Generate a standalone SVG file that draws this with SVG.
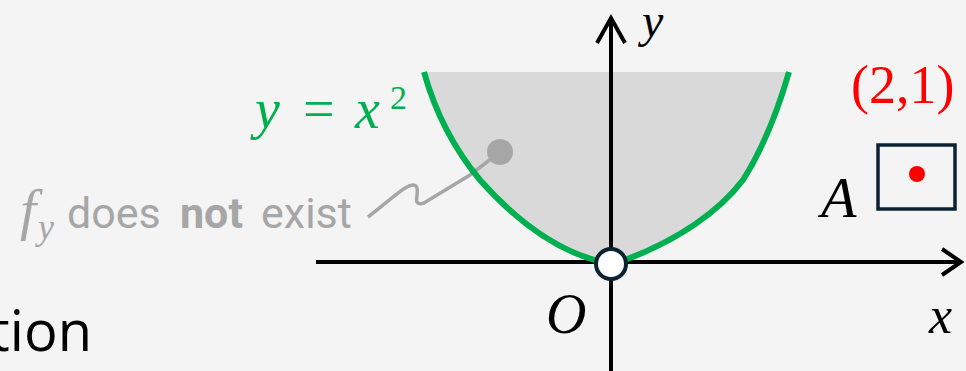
<svg xmlns="http://www.w3.org/2000/svg" width="966" height="371" viewBox="0 0 966 371">
<style>
.math{font-family:"Liberation Serif","DejaVu Serif",serif;font-style:italic}
.up{font-family:"Liberation Serif","DejaVu Serif",serif}
.sans{font-family:Roboto,"Liberation Sans",sans-serif;font-size:43px}
.axis{stroke:#000;stroke-width:4;fill:none}
.curve{stroke:#00b050;stroke-width:6;fill:none}
</style>
<rect width="966" height="371" fill="#f4f4f4"/>
<g id="region">
<path d="M 424 72 C 436 115 455 150 480 180 C 520 225 560 252 600 262 L 625 260 C 680 240 720 210 743 180 C 762 150 778 110 789 72 Z" fill="#d9d9d9"/>
</g>
<g id="connectors">
<line class="axis" x1="316" y1="262" x2="961" y2="262"/>
<polyline class="axis" points="942,249 961,262 942,275"/>
<line class="axis" x1="611" y1="371" x2="611" y2="18"/>
<polyline class="axis" points="597,43 611,18 625,43"/>
<path d="M 368 217 C 392 199 410 180 416 186 C 421 192 410 207 424 203 L 470 175 L 500 152" fill="none" stroke="#a6a6a6" stroke-width="3.5"/>
</g>
<g id="parabola">
<path class="curve" d="M 424 72 C 436 115 455 150 480 180 C 520 225 560 252 602 262"/>
<path class="curve" d="M 789 72 C 778 110 762 150 743 180 C 720 210 680 240 622 261"/>
</g>
<g id="origin">
<circle cx="611" cy="264" r="15" fill="#fff" stroke="#0b2233" stroke-width="4"/>
</g>
<g id="point-dot">
<circle cx="500" cy="152" r="13" fill="#a6a6a6"/>
</g>
<g id="label-curve" fill="#00b050">
<text x="255" y="128" class="math" font-size="56">y</text>
<text x="303" y="128" class="up" font-size="56">=</text>
<text x="355" y="128" class="math" font-size="56">x</text>
<text x="390" y="109" class="up" font-size="34">2</text>
</g>
<g id="label-fy" fill="#a6a6a6">
<text x="20" y="229" class="math" font-size="58">f</text>
<text x="38" y="239" class="math" font-size="36">y</text>
<text x="67" y="228" class="sans">does</text>
<text x="180" y="228" class="sans" font-weight="bold">not</text>
<text x="261" y="228" class="sans">exist</text>
</g>
<g id="box-A">
<rect x="878" y="145" width="77" height="64" fill="none" stroke="#0b2233" stroke-width="3.5"/>
<circle cx="917" cy="174" r="8" fill="#ff0000"/>
<text x="821" y="217" class="math" font-size="58" fill="#000">A</text>
</g>
<g id="label-21">
<text x="851" y="103" class="up" font-size="54" fill="#ff0000">(2,1)</text>
</g>
<g id="axis-labels">
<text x="642" y="37" class="math" font-size="48">y</text>
<text x="929" y="333" class="math" font-size="52">x</text>
<text x="546" y="333" class="math" font-size="56">O</text>
</g>
<g id="cut-text">
<text x="92" y="351" text-anchor="end" font-family="'Open Sans','Noto Sans',sans-serif" font-size="56" fill="#000">tion</text>
</g>
</svg>
